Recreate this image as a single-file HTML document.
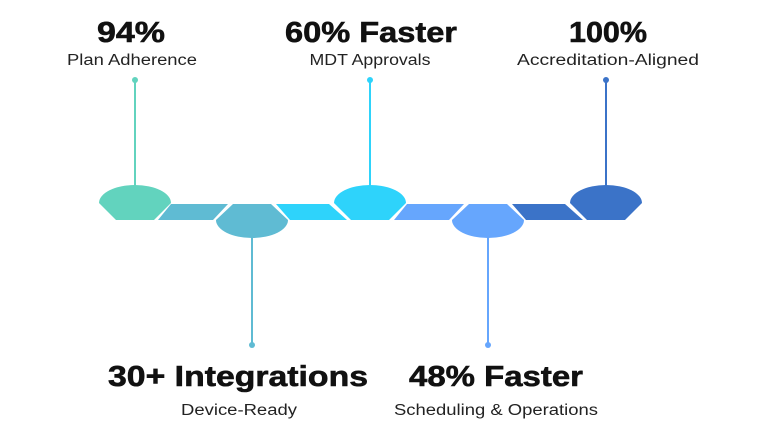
<!DOCTYPE html>
<html><head><meta charset="utf-8"><style>
html,body{margin:0;padding:0;background:#fff;}
svg{display:block;font-family:"Liberation Sans",sans-serif;}
.h{font-weight:bold;font-size:29px;fill:#111;stroke:#111;stroke-width:0.6;text-anchor:middle;}
.s{font-size:15.5px;fill:#222;text-anchor:middle;}
</style></head><body>
<svg width="768" height="432" viewBox="0 0 768 432">
<g stroke-width="2">
<line x1="135" y1="80" x2="135" y2="186" stroke="#62d3be"/>
<line x1="370" y1="80" x2="370" y2="186" stroke="#2ed3fb"/>
<line x1="606" y1="80" x2="606" y2="186" stroke="#3b73c8"/>
<line x1="252" y1="237" x2="252" y2="345" stroke="#5fbbd3"/>
<line x1="488" y1="237" x2="488" y2="345" stroke="#66a6fd"/>
</g>
<circle cx="135" cy="80" r="3" fill="#62d3be"/>
<circle cx="370" cy="80" r="3" fill="#2ed3fb"/>
<circle cx="606" cy="80" r="3" fill="#3b73c8"/>
<circle cx="252" cy="345" r="3" fill="#5fbbd3"/>
<circle cx="488" cy="345" r="3" fill="#66a6fd"/>
<path d="M99,203 A36,18 0 0 1 171,203 L154,220 L116,220 Z" fill="#62d3be"/>
<path d="M334,203 A36,18 0 0 1 406,203 L389,220 L351,220 Z" fill="#2ed3fb"/>
<path d="M570,203 A36,18 0 0 1 642,203 L625,220 L587,220 Z" fill="#3b73c8"/>
<path d="M233,204 L271,204 L288,220 A36,18 0 0 1 216,220 Z" fill="#5fbbd3"/>
<path d="M469,204 L507,204 L524,220 A36,18 0 0 1 452,220 Z" fill="#66a6fd"/>
<path d="M171,204 L228,204 L213,220 L158,220 Z" fill="#5fbbd3"/>
<path d="M276,204 L329,204 L347,220 L290,220 Z" fill="#2ed3fb"/>
<path d="M407,204 L464,204 L449,220 L394,220 Z" fill="#66a6fd"/>
<path d="M512,204 L565,204 L583,220 L526,220 Z" fill="#3b73c8"/>
<text class="h" x="131" y="42" textLength="68" lengthAdjust="spacingAndGlyphs">94%</text>
<text class="s" x="132" y="65" textLength="130" lengthAdjust="spacingAndGlyphs">Plan Adherence</text>
<text class="h" x="371" y="42" textLength="172" lengthAdjust="spacingAndGlyphs">60% Faster</text>
<text class="s" x="370" y="65" textLength="121" lengthAdjust="spacingAndGlyphs">MDT Approvals</text>
<text class="h" x="608" y="42" textLength="78" lengthAdjust="spacingAndGlyphs">100%</text>
<text class="s" x="608" y="65" textLength="182" lengthAdjust="spacingAndGlyphs">Accreditation-Aligned</text>
<text class="h" x="238" y="386" textLength="260" lengthAdjust="spacingAndGlyphs">30+ Integrations</text>
<text class="s" x="239" y="415" textLength="116" lengthAdjust="spacingAndGlyphs">Device-Ready</text>
<text class="h" x="496" y="386" textLength="174" lengthAdjust="spacingAndGlyphs">48% Faster</text>
<text class="s" x="496" y="415" textLength="204" lengthAdjust="spacingAndGlyphs">Scheduling &amp; Operations</text>
</svg>
</body></html>
